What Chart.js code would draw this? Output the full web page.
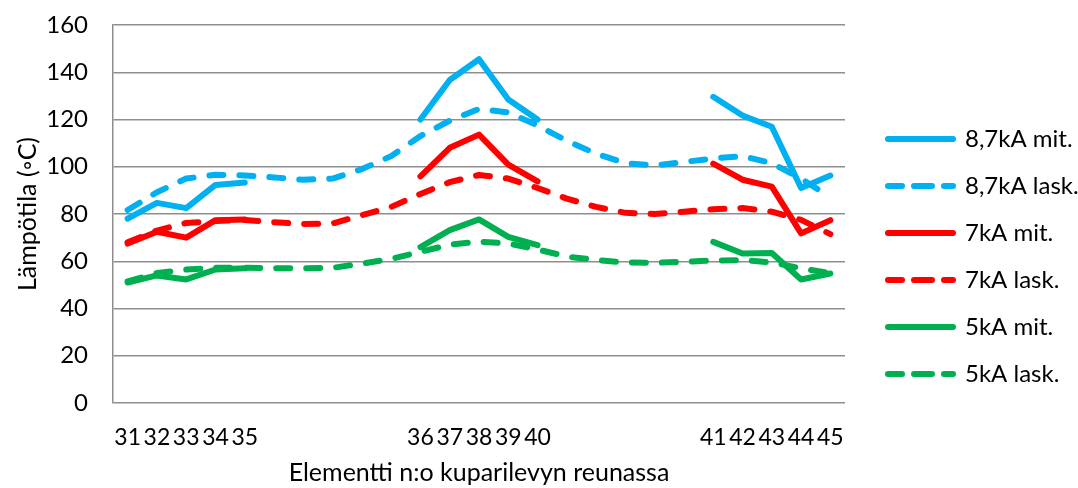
<!DOCTYPE html>
<html lang="fi">

<head>
    <meta charset="UTF-8" />
    <title>Lämpötila kuparilevyn reunassa</title>
    <script src="https://cdn.jsdelivr.net/npm/chart.js"></script>
    <style>
        body {
            margin: 0;
            background: #ffffff;
        }

        .chart-box {
            width: 1078px;
            height: 488px;
        }
    </style>
</head>

<body>
    <div class="chart-box">
        <canvas id="tempChart"></canvas>
    </div>

    <script>
        // element numbers, empty slots are the gaps between the three groups
        const elements = ['31', '32', '33', '34', '35', '', '', '', '', '',
            '36', '37', '38', '39', '40', '', '', '', '', '',
            '41', '42', '43', '44', '45'];

        const yTicks = [0, 20, 40, 60, 80, 100, 120, 140, 160];

        // measured (mit.) - only at the element positions
        const mit87 = [78, 84.7, 82.5, 92.3, 93.3, null, null, null, null, null,
            120, 136.7, 145.5, 128.5, 120, null, null, null, null, null,
            129.6, 121.7, 116.9, 91, 96.3];
        const mit7 = [67.5, 72.5, 70, 77.4, 77.7, null, null, null, null, null,
            95.9, 108, 113.6, 100.9, 93.8, null, null, null, null, null,
            101.3, 94.5, 91.6, 71.8, 77.4];
        const mit5 = [51, 54, 52.3, 56.5, 57, null, null, null, null, null,
            66, 73.2, 77.7, 70.3, 66.8, null, null, null, null, null,
            68.2, 63.3, 63.5, 52.3, 54.8];

        // calculated (lask.) - continuous along the edge
        const lask87 = [81.7, 89.2, 95, 96.6, 96.3, 95.5, 94.5, 95, 99, 104.5,
            113, 119.5, 124.5, 123, 117.5, 111, 105.5, 101.5, 100.5, 102,
            103.5, 104.5, 101.5, 95, 87];
        const lask7 = [68, 73, 76.2, 77, 77.5, 76.5, 75.8, 76, 79.5, 83,
            88.5, 93.5, 96.5, 95, 91, 86.5, 83, 80.5, 80, 81,
            82, 82.5, 81, 77.5, 71.5];
        const lask5 = [51.5, 55, 56.5, 57.2, 57.3, 57, 57, 57.2, 59, 61,
            64, 67, 68.3, 67.5, 65, 62, 60.5, 59.5, 59.3, 59.8,
            60.3, 60.5, 59.5, 57, 55];

        const BLUE = '#00b0f0';
        const RED = '#ff0000';
        const GREEN = '#00b050';
        const FONT = 'Lato';
        const FSIZE = 25;

        function series(label, data, color, dashed) {
            return {
                label: label,
                data: data,
                borderColor: color,
                backgroundColor: color,
                borderWidth: 6,
                borderDash: dashed ? [14, 16] : [],
                borderCapStyle: 'round',
                borderJoinStyle: 'round',
                pointRadius: 0,
                tension: 0,
                spanGaps: false,
                fill: false
            };
        }

        // fixed legend width, then nudge it a bit right/down like in the original
        const legendFix = {
            id: 'legendFix',
            beforeInit(chart) {
                const fit = chart.legend.fit;
                chart.legend.fit = function () {
                    fit.call(this);
                    this.width = 233;
                };
            },
            afterLayout(chart) {
                chart.legend.left += 20;
                chart.legend.top += 25;
            }
        };

        new Chart(document.getElementById('tempChart'), {
            type: 'line',
            data: {
                labels: elements,
                datasets: [
                    series('8,7kA mit.', mit87, BLUE, false),
                    series('8,7kA lask.', lask87, BLUE, true),
                    series('7kA mit.', mit7, RED, false),
                    series('7kA lask.', lask7, RED, true),
                    series('5kA mit.', mit5, GREEN, false),
                    series('5kA lask.', lask5, GREEN, true)
                ]
            },
            options: {
                animation: false,
                responsive: true,
                maintainAspectRatio: false,
                layout: {
                    padding: { left: 9, right: 0, top: 0, bottom: 0 }
                },
                scales: {
                    x: {
                        offset: true,
                        afterFit: s => { s.height = 85; },
                        grid: { display: false, drawTicks: false },
                        border: { display: false },
                        ticks: {
                            autoSkip: false,
                            maxRotation: 0,
                            padding: 21,
                            color: '#000',
                            font: { family: FONT, size: 23 }
                        },
                        title: {
                            display: true,
                            text: 'Elementti n:o kuparilevyn reunassa',
                            color: '#000',
                            padding: { top: 0, bottom: 0 },
                            font: { family: FONT, size: FSIZE }
                        }
                    },
                    y: {
                        min: 0,
                        max: 160,
                        afterFit: s => {
                            s.width = 104;
                            s.paddingTop = 25;
                            s.paddingBottom = 0;
                        },
                        afterBuildTicks: axis => { axis.ticks = yTicks.map(v => ({ value: v })); },
                        grid: { color: '#8e8e8e', lineWidth: 1.5, drawTicks: false },
                        border: { display: true, color: '#8e8e8e', width: 1.5 },
                        ticks: {
                            padding: 25,
                            color: '#000',
                            font: { family: FONT, size: 24 }
                        },
                        title: {
                            display: true,
                            text: 'Lämpötila (◦C)',
                            color: '#000',
                            padding: { top: 4, bottom: 1 },
                            font: { family: FONT, size: FSIZE }
                        }
                    }
                },
                plugins: {
                    legend: {
                        position: 'right',
                        labels: {
                            boxWidth: 65,
                            boxHeight: 0,
                            padding: 23,
                            color: '#000',
                            font: { family: FONT, size: 24 }
                        }
                    },
                    tooltip: { enabled: false }
                }
            },
            plugins: [legendFix]
        });
    </script>
</body>

</html>
